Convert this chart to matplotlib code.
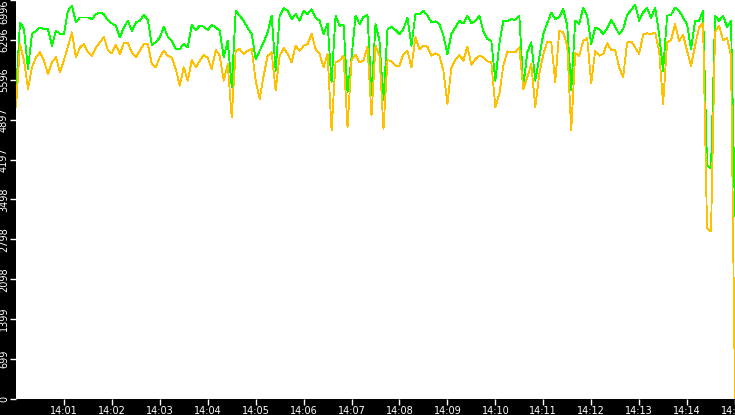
import numpy as np
import pandas as pd
import matplotlib
matplotlib.use("Agg")
import matplotlib.pyplot as plt
import matplotlib.dates as mdates

#~~~~~~~~~~~~~~~~~~~~~~~~~1. data (5 s steps from 14:00:00)~~~~~~~~~~~~~~~~~~~~~~~~~
times = pd.date_range("2024-01-01 14:00:00", periods=181, freq="5s")
minute_ticks = pd.date_range("2024-01-01 14:01:00", "2024-01-01 14:15:00", freq="1min")

total = [
    5349, 6603, 6486, 5786, 6399, 6457, 6515, 6486, 6486, 6195, 6457, 6399, 6399, 6807, 6894,
    6603, 6690, 6690, 6690, 6661, 6749, 6778, 6749, 6644, 6585, 6545, 6340, 6515, 6632, 6457,
    6603, 6632, 6737, 6644, 6212, 6253, 6340, 6527, 6352, 6282, 6136, 6136, 6224, 6165, 6562,
    6469, 6545, 6527, 6469, 6562, 6515, 6457, 5990, 6282, 5466, 6807, 6720, 6632, 6504, 6399,
    5961, 6107, 6253, 6428, 6720, 5757, 6720, 6854, 6807, 6661, 6749, 6632, 6807, 6749, 6836,
    6679, 6632, 6399, 6585, 5553, 6720, 6545, 6562, 5378, 5990, 6720, 6574, 6702, 6731, 5320,
    6574, 6282, 5232, 6486, 6527, 6469, 6399, 6486, 6690, 6195, 6749, 6749, 6807, 6720, 6603,
    6621, 6574, 6370, 6049, 6399, 6515, 6632, 6585, 6720, 6585, 6632, 6720, 6446, 6311, 6282,
    5582, 6224, 6632, 6621, 6661, 6644, 6720, 5466, 6078, 6253, 5582, 5990, 6399, 6585, 6778,
    6661, 6690, 6836, 6545, 5407, 6632, 6574, 6866, 6720, 6224, 6515, 6486, 6399, 6504, 6644,
    6527, 6399, 6486, 6737, 6819, 6912, 6632, 6778, 6854, 6679, 6866, 6399, 5757, 6720, 6737,
    6866, 6807, 6690, 6562, 6136, 6632, 6632, 6807, 4095, 4042, 6720, 6632, 6720, 6527, 6632,
    3200,
]

part = [
    5115, 6224, 5932, 5436, 5816, 5990, 6078, 5932, 5699, 5903, 5990, 5728, 5944, 6177, 6428,
    5990, 6165, 6224, 6078, 6020, 6165, 6253, 6352, 6119, 6061, 6212, 6049, 6241, 6241, 6078,
    5990, 6107, 6224, 6224, 5874, 5816, 5990, 6107, 6020, 5990, 5786, 5495, 5816, 5582, 5944,
    5816, 5932, 6037, 5979, 5786, 6119, 6020, 5582, 5874, 4940, 6107, 6136, 6049, 6107, 6136,
    5582, 5262, 5670, 6020, 6078, 5408, 6020, 6154, 6049, 5903, 6195, 6107, 6195, 6224, 6399,
    6136, 6049, 5816, 6049, 4707, 5903, 5932, 6020, 4766, 5944, 6032, 5903, 5932, 6177, 4970,
    6195, 6020, 4737, 5944, 5920, 5845, 5845, 6049, 6107, 5816, 6341, 6136, 6195, 6177, 6020,
    6061, 6020, 5757, 5174, 5816, 5944, 6032, 5932, 6177, 5862, 5961, 6020, 5990, 5920, 5903,
    5115, 5349, 5845, 6096, 6078, 6078, 6165, 5436, 5640, 5874, 5115, 5699, 6037, 6270, 6253,
    5553, 6457, 6428, 6195, 4707, 6061, 6020, 6282, 6329, 5535, 6107, 6020, 6049, 6236, 6119,
    6119, 5816, 5640, 6253, 6270, 6165, 6049, 6387, 6411, 6399, 6428, 6107, 5174, 6253, 6294,
    6574, 6282, 6387, 6107, 5845, 6195, 6515, 6586, 2992, 2940, 6428, 6545, 6294, 6329, 6020,
    0,
]

ytick_labels = ["0", "699", "1399", "2098", "2798", "3498", "4197", "4897", "5596", "6296", "6996"]
ymax = 6996

#~~~~~~~~~~~~~~~~~~~~~~~~~2. plot~~~~~~~~~~~~~~~~~~~~~~~~~
fig = plt.figure(figsize=(7.35, 4.15), dpi=100, facecolor="black")
ax = fig.add_axes([16/735, 16/415, 719/735, 399/415])
ax.set_facecolor("white")

ax.plot(times, total, color="#00ff00", lw=0.6, antialiased=False, zorder=2)
ax.plot(times, part, color="#ffc000", lw=0.6, antialiased=False, zorder=3)

ax.set_xlim(times[0], times[-1])
ax.set_ylim(0, ymax)

for sp in ax.spines.values():
    sp.set_visible(False)

ax.set_xticks(minute_ticks)
ax.xaxis.set_major_formatter(mdates.DateFormatter("%H:%M"))
ax.set_yticks(np.linspace(0, ymax, len(ytick_labels)))
ax.set_yticklabels(ytick_labels)

ax.tick_params(colors="white", labelcolor="white", labelsize=7, length=4, width=1,
               direction="out", pad=1)
for i, lbl in enumerate(ax.get_yticklabels()):
    lbl.set_rotation(90)
    lbl.set_ha("right")
    lbl.set_va("top" if i == len(ytick_labels) - 1 else "center")

fig.savefig("out.png", dpi=100, facecolor="black")
